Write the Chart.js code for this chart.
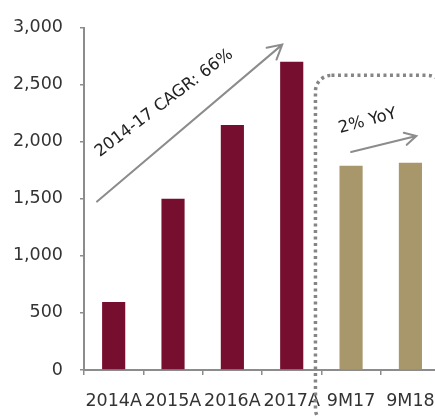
<!DOCTYPE html>
<html>
<head>
<meta charset="utf-8">
<script src="https://cdn.jsdelivr.net/npm/chart.js@4.4.0/dist/chart.umd.min.js"></script>
<style>
  html, body { margin: 0; padding: 0; background: #fff; overflow: hidden; }
  #wrap { width: 451px; height: 417px; }
</style>
</head>
<body>
<div id="wrap"><canvas id="mycanvas" width="451" height="417"></canvas></div>
<script>
// chart values
var labels = ["2014A", "2015A", "2016A", "2017A", "9M17", "9M18"];
var values = [595, 1500, 2145, 2700, 1790, 1815];
var barColors = ["#760e2f", "#760e2f", "#760e2f", "#760e2f", "#a8976b", "#a8976b"];
var yTicks = [0, 500, 1000, 1500, 2000, 2500, 3000];

var grey = "#8c8c8c";
var textColor = "#333333";

// arrows, notes and the dotted box, placed with the chart's own scales
var notesPlugin = {
  id: "notes",
  afterDatasetsDraw: function(chart) {
    var ctx = chart.ctx;
    var xs = chart.scales.x, ys = chart.scales.y;
    function px(i, v) { return [xs.getPixelForValue(i), ys.getPixelForValue(v)]; }

    function arrow(a, b, head) {
      ctx.save();
      ctx.strokeStyle = grey;
      ctx.lineWidth = 2;
      ctx.lineCap = "round";
      ctx.beginPath();
      ctx.moveTo(a[0], a[1]);
      ctx.lineTo(b[0], b[1]);
      var ang = Math.atan2(b[1] - a[1], b[0] - a[0]);
      ctx.moveTo(b[0] - head * Math.cos(ang - 0.5), b[1] - head * Math.sin(ang - 0.5));
      ctx.lineTo(b[0], b[1]);
      ctx.lineTo(b[0] - head * Math.cos(ang + 0.5), b[1] - head * Math.sin(ang + 0.5));
      ctx.stroke();
      ctx.restore();
    }

    function note(text, p, deg) {
      ctx.save();
      ctx.translate(p[0], p[1]);
      ctx.rotate(deg * Math.PI / 180);
      ctx.fillStyle = "#222";
      ctx.font = "16.5px 'DejaVu Sans'";
      ctx.textAlign = "center";
      ctx.textBaseline = "middle";
      ctx.fillText(text, 0, 0);
      ctx.restore();
    }

    arrow(px(-0.28, 1475), px(2.84, 2850), 16);
    note("2014-17 CAGR: 66%", px(0.85, 2337), -37);

    arrow(px(4.0, 1910), px(5.1, 2049), 13);
    note("2% YoY", px(4.28, 2180), -15);

    // dotted box round the nine-month bars
    var tl = px(3.4, 2581), br = px(5.56, -480);
    var x0 = tl[0], y0 = tl[1], x1 = br[0], y1 = br[1], r = 16;
    ctx.save();
    ctx.strokeStyle = "#858585";
    ctx.lineWidth = 3.5;
    ctx.setLineDash([3, 3.5]);
    ctx.beginPath();
    ctx.moveTo(x0 + r, y0);
    ctx.lineTo(x1 - r, y0);
    ctx.arcTo(x1, y0, x1, y0 + r, r);
    ctx.lineTo(x1, y1 - r);
    ctx.arcTo(x1, y1, x1 - r, y1, r);
    ctx.lineTo(x0 + r, y1);
    ctx.arcTo(x0, y1, x0, y1 - r, r);
    ctx.lineTo(x0, y0 + r);
    ctx.arcTo(x0, y0, x0 + r, y0, r);
    ctx.stroke();
    ctx.restore();
  }
};

var ctx = document.getElementById("mycanvas");

var chart = new Chart(ctx, {
  type: "bar",
  data: {
    labels: labels,
    datasets: [{
      data: values,
      backgroundColor: barColors,
      borderWidth: 0,
      barPercentage: 0.39,
      categoryPercentage: 1.0
    }]
  },
  options: {
    responsive: false,
    animation: false,
    layout: { padding: { top: 26, right: 4, left: 0, bottom: 0 } },
    plugins: {
      legend: { display: false },
      tooltip: { enabled: false }
    },
    scales: {
      x: {
        afterFit: function(scale) { scale.height = 47; },
        border: { display: true, color: grey, width: 2 },
        grid: { drawOnChartArea: false, drawTicks: true, tickLength: 5, color: grey, lineWidth: 1.5 },
        ticks: {
          color: textColor,
          padding: 16,
          maxRotation: 0,
          autoSkip: false,
          font: { family: "'DejaVu Sans'", size: 17.5 }
        }
      },
      y: {
        min: 0,
        max: 3000,
        afterFit: function(scale) { scale.width = 84; },
        afterBuildTicks: function(scale) {
          scale.ticks = yTicks.map(function(v) { return { value: v }; });
        },
        border: { display: true, color: grey, width: 2 },
        grid: { drawOnChartArea: false, drawTicks: true, tickLength: 4, color: grey, lineWidth: 1.5 },
        ticks: {
          color: textColor,
          padding: 17,
          font: { family: "'DejaVu Sans'", size: 17.5 },
          callback: function(v) { return Number(v).toLocaleString("en-US"); }
        }
      }
    }
  },
  plugins: [notesPlugin]
});
</script>
</body>
</html>
